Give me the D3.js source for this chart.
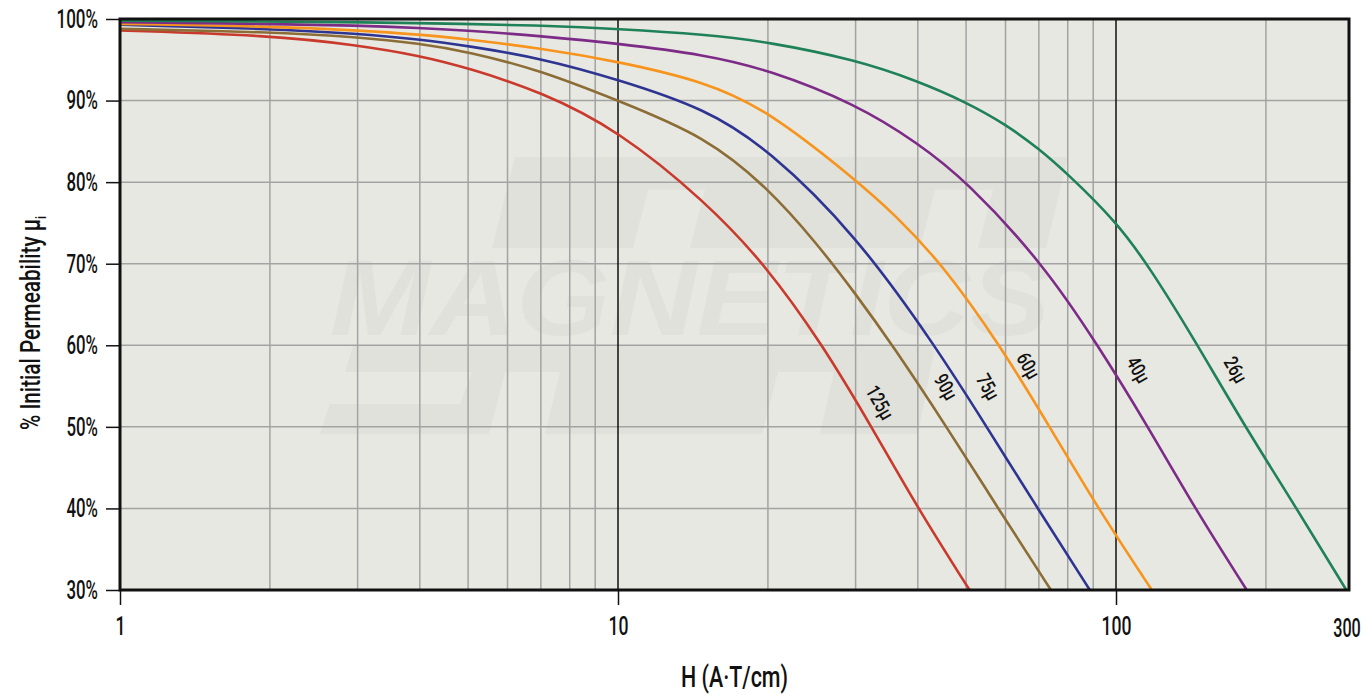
<!DOCTYPE html>
<html><head><meta charset="utf-8">
<script src="https://cdn.jsdelivr.net/npm/d3@7/dist/d3.min.js"></script>
<style>body{margin:0;background:#fff;} svg{display:block}</style>
</head><body><svg id="c" width="1366" height="694"></svg>
<script>
// ---- data ----
const seriesNames = ["125\u03bc","90\u03bc","75\u03bc","60\u03bc","40\u03bc","26\u03bc"];
const seriesColors = ["#c93a2c","#8c6d36","#2e3491","#f7941d","#7c2b87","#1f8157"];

const h125 = [1,2,3,4,5,7,10,15,19.7,25.8,32.3,40,50.8];
const p125 = [98.6,98.0,96.8,95.5,94.0,91.1,86.4,77.6,70,60,50,40,30];
const h90 = [1,2,3,4,5,7,10,15,20,25,30,35.6,45.7,58,74];
const p90 = [98.8,98.4,97.8,97.0,96.0,93.7,90.0,85.6,79.3,72.6,66.3,60,50,40,30];
const h75 = [1,2,3,4,5,7,10,15,20,30,43.3,55,69.6,88.6];
const p75 = [99.3,98.8,98.2,97.5,96.7,95.2,92.6,89.0,84.1,73.6,60,50,40,30];
const h60 = [1,2,3,4,5,7,10,15,20,30,36,45,58.5,73.6,92,118];
const p60 = [99.4,99.1,98.6,98.1,97.5,96.4,94.8,92.3,88.8,80.3,76.0,69.8,60,50,40,30];
const h40 = [1,2,3,4,5,7,10,15,20,30,40,50,71.4,92,116,144,183];
const p40 = [99.6,99.4,99.2,98.9,98.6,97.9,97.0,95.6,93.8,89.6,84.8,80.2,70,60,50,40,30];
const h26 = [1,2,3,5,7,10,15,20,30,40,50,60,70,80,100,117,144,180,230,290];
const p26 = [99.8,99.7,99.6,99.4,99.2,98.8,98.1,97.2,95.0,92.4,89.8,87.1,84.1,81.0,75.2,69.5,60.6,50.4,40.1,30];

const seriesH = [h125,h90,h75,h60,h40,h26];
const seriesP = [p125,p90,p75,p60,p40,p26];

// label anchor positions (H, %)
const labelH = [33.6,45.6,55.4,66.8,111,174];
const labelP = [53.0,54.9,54.9,57.5,57.0,57.0];

const yTicks = [30,40,50,60,70,80,90,100];
const xTickValues = [1,10,100];
const xTickLabels = ["1","10","100"];
const xEndLabel = "300";
const xMinorGrid = [2,3,4,5,6,7,8,9,20,30,40,50,60,70,80,90,200];
const xMajorGrid = [10,100];

// ---- layout ----
const L = 120, R = 1349, T = 19, B = 590;
const xMax = Math.pow(10, (R - L) / 498);
const x = d3.scaleLog().domain([1, xMax]).range([L, R]);
const y = d3.scaleLinear().domain([30, 100]).range([B, T]);

const font = "Roboto,'DejaVu Sans',sans-serif";
const W = "500";
// condensed look: width per glyph
function condensedWidth(s, unit) {
  let w = 0;
  for (const ch of s) w += (ch === "%" ? 1.15 : ch === "\u03bc" ? 0.95 : ch === " " ? 0.4 : 1) * unit;
  return w;
}
function squash(sel, unit) {
  sel.each(function () {
    const t = d3.select(this);
    t.attr("textLength", condensedWidth(t.text(), unit)).attr("lengthAdjust", "spacingAndGlyphs");
  });
}

const svg = d3.select("#c");
svg.append("rect").attr("x", L).attr("y", T).attr("width", R - L).attr("height", B - T).attr("fill", "#e8e8e2");

// watermark
const wm = svg.append("g").attr("fill", "#e0e1db");
wm.append("path").attr("d", "M515,157 L1068,157 L1046,248 L978,248 L993,190 L935,190 L920,248 L690,248 L705,190 L648,190 L633,248 L492,248 Z");
wm.append("path").attr("d", "M353,346 L935,346 L918,434 L820,434 L834,372 L778,372 L762,434 L545,434 L560,372 L505,372 L489,434 L320,434 L330,404 L460,404 L472,372 L345,372 Z");
wm.append("text").attr("x", 330).attr("y", 335).attr("font-family", "'Liberation Sans','DejaVu Sans',sans-serif")
  .attr("font-weight", "bold").attr("font-style", "italic").attr("font-size", 108)
  .attr("textLength", 720).attr("lengthAdjust", "spacingAndGlyphs").text("MAGNETICS");

// grid
const grid = svg.append("g");
grid.selectAll(".hg").data(yTicks.filter(d => d > 30 && d < 100)).join("line")
  .attr("x1", L).attr("x2", R).attr("y1", d => y(d)).attr("y2", d => y(d))
  .attr("stroke", "#a3a3a3").attr("stroke-width", 1.5);
grid.selectAll(".vg").data(xMinorGrid).join("line")
  .attr("x1", d => x(d)).attr("x2", d => x(d)).attr("y1", T).attr("y2", B)
  .attr("stroke", "#a3a3a3").attr("stroke-width", 1.5);
grid.selectAll(".vm").data(xMajorGrid).join("line")
  .attr("x1", d => x(d)).attr("x2", d => x(d)).attr("y1", T).attr("y2", B)
  .attr("stroke", "#111").attr("stroke-width", 1.5);

// curves
svg.append("clipPath").attr("id", "pc").append("rect")
  .attr("x", L).attr("y", T).attr("width", R - L).attr("height", B - T);
const line = d3.line().x(d => x(d[0])).y(d => y(d[1])).curve(d3.curveBasis);
const cg = svg.append("g").attr("clip-path", "url(#pc)");
seriesNames.forEach((n, i) => {
  const pts = seriesH[i].map((h, j) => [h, seriesP[i][j]]);
  cg.append("path").attr("d", line(pts)).attr("fill", "none")
    .attr("stroke", seriesColors[i]).attr("stroke-width", 2.6);
});

// curve labels
seriesNames.forEach((n, i) => {
  const t = svg.append("text")
    .attr("transform", `translate(${x(labelH[i])},${y(labelP[i])}) rotate(60)`)
    .attr("text-anchor", "middle").attr("dy", "0.36em")
    .attr("font-family", font).attr("font-weight", W).attr("font-size", 20).attr("fill", "#111")
    .text(n);
  squash(t, 9);
});

// frame
svg.append("rect").attr("x", L).attr("y", T).attr("width", R - L).attr("height", B - T)
  .attr("fill", "none").attr("stroke", "#111").attr("stroke-width", 3);

// axes
const ya = svg.append("g").attr("transform", `translate(${L},0)`)
  .call(d3.axisLeft(y).tickValues(yTicks).tickFormat(d => d + "%").tickSize(14).tickPadding(8));
ya.select(".domain").remove();
ya.selectAll(".tick line").attr("stroke", "#111").attr("stroke-width", 1.5);
ya.selectAll(".tick text").attr("font-family", font).attr("font-weight", W).attr("font-size", 26).attr("fill", "#111")
  .call(squash, 10);

const xa = svg.append("g").attr("transform", `translate(0,${B})`)
  .call(d3.axisBottom(x).tickValues(xTickValues).tickFormat((d, i) => xTickLabels[i]).tickSize(15).tickPadding(12));
xa.select(".domain").remove();
xa.selectAll(".tick line").attr("stroke", "#111").attr("stroke-width", 1.5);
xa.selectAll(".tick text").attr("font-family", font).attr("font-weight", W).attr("font-size", 26).attr("fill", "#111")
  .call(squash, 10);
svg.append("text").attr("x", x(xMax) - 2).attr("y", 637).attr("text-anchor", "middle")
  .attr("font-family", font).attr("font-weight", W).attr("font-size", 26).attr("fill", "#111").text(xEndLabel)
  .call(squash, 9.2);

// axis titles
svg.append("text").attr("x", (L + R) / 2).attr("y", 687).attr("text-anchor", "middle")
  .attr("font-family", font).attr("font-weight", W).attr("font-size", 29).attr("fill", "#111")
  .attr("textLength", 107).attr("lengthAdjust", "spacingAndGlyphs").text("H (A\u00b7T/cm)");
const yt = svg.append("text").attr("transform", "translate(40,323) rotate(-90)").attr("text-anchor", "middle")
  .attr("font-family", font).attr("font-weight", W).attr("font-size", 27).attr("fill", "#111")
  .attr("textLength", 214).attr("lengthAdjust", "spacingAndGlyphs");
yt.append("tspan").text("% Initial Permeability \u03bc");
yt.append("tspan").attr("font-size", 15).attr("dy", 6).text("i");
</script></body></html>
